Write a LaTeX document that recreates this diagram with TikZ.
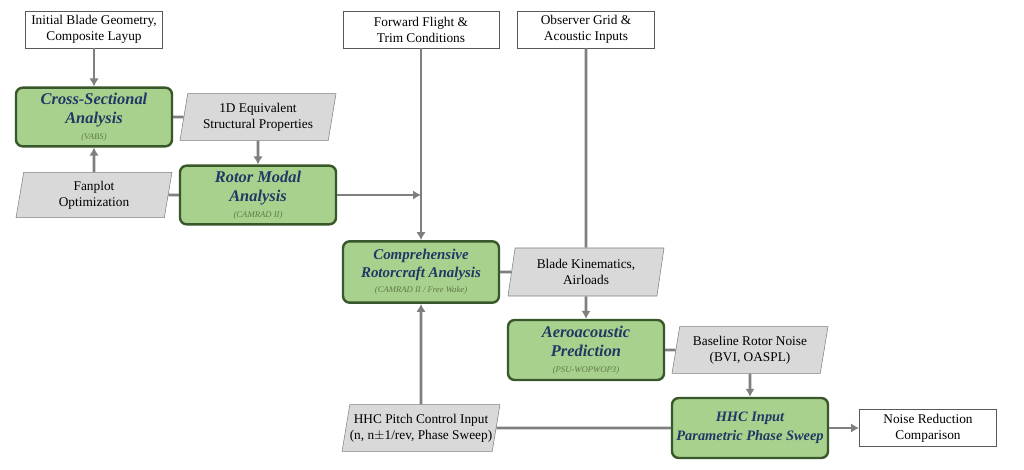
\documentclass[tikz,border=0pt]{standalone}
\usepackage{fontspec}
\setmainfont{Liberation Serif}
\usetikzlibrary{shapes.geometric,arrows.meta}

\definecolor{boxgreen}{HTML}{A9D18E}
\definecolor{edgegreen}{HTML}{38572A}
\definecolor{titleblue}{HTML}{1F3864}
\definecolor{subgreen}{HTML}{5E7B45}
\definecolor{datagray}{HTML}{D9D9D9}
\definecolor{linegray}{HTML}{7F7F7F}

% small tool name under a process title
\newcommand{\toolname}[1]{\\[-2pt]{\fontsize{6.5}{7.5}\selectfont\mdseries\itshape\color{subgreen}#1}}

\begin{document}
\begin{tikzpicture}[x=0.75pt, y=-0.75pt,
    font=\fontsize{10}{12}\selectfont,
    process/.style={draw=edgegreen, line width=1.8pt, fill=boxgreen, rounded corners=5pt,
      minimum width=117pt, minimum height=44pt, inner sep=1pt, align=center,
      text=titleblue, font=\fontsize{12.3}{14.3}\selectfont\bfseries\itshape},
    data/.style={trapezium, trapezium left angle=77, trapezium right angle=103,
      trapezium stretches body, draw=linegray, fill=datagray,
      minimum width=117pt, minimum height=35pt, inner sep=2pt, align=center},
    input/.style={draw=linegray!70!black, fill=white, minimum width=103pt,
      minimum height=28pt, inner sep=2pt, align=center},
    flow/.style={draw=linegray, line width=2pt, -{Latex[length=6pt,width=7pt]}},
    link/.style={draw=linegray, line width=2pt}]
    \useasboundingbox (0,0) rectangle (1024,470);

    % structural branch
    \node [input] (init) at (94,29.5) {Initial Blade Geometry,\\Composite Layup};
    \node [process] (csa) at (94,117) {Cross-Sectional\\Analysis\toolname{(VABS)}};
    \node [data] (eq1d) at (258,117) {1D Equivalent\\Structural Properties};
    \node [data, minimum height=34pt] (fan) at (94,195) {Fanplot\\Optimization};
    \node [process] (modal) at (258,195) {Rotor Modal\\Analysis\toolname{(CAMRAD II)}};

    % aeromechanics and acoustics
    \node [input, minimum width=117pt] (ff) at (421,29.5) {Forward Flight \&\\Trim Conditions};
    \node [input] (obs) at (586,29.5) {Observer Grid \&\\Acoustic Inputs};
    \node [process, minimum height=46pt, font=\fontsize{11.2}{13.5}\selectfont\bfseries\itshape] (comp) at (421,272) {Comprehensive\\Rotorcraft Analysis\toolname{(CAMRAD II / Free Wake)}};
    \node [data, minimum height=36pt] (kin) at (586,272) {Blade Kinematics,\\Airloads};
    \node [process, minimum height=45pt] (aero) at (586,350) {Aeroacoustic\\Prediction\toolname{(PSU-WOPWOP3)}};
    \node [data] (base) at (750,350) {Baseline Rotor Noise\\(BVI, OASPL)};

    % HHC sweep
    \node [data, inner xsep=0pt] (pitch) at (421,428) {HHC Pitch Control Input\\(n, n$\pm$1/rev, Phase Sweep)};
    \node [process, minimum height=45pt, font=\fontsize{10.8}{14}\selectfont\bfseries\itshape] (hhc) at (750,428) {HHC Input\\Parametric Phase Sweep};
    \node [input] (noise) at (928,428) {Noise Reduction\\Comparison};

    \draw [flow] (init) -- (csa);
    \draw [link] (csa) -- (eq1d);
    \draw [flow] (eq1d) -- (modal);
    \draw [flow] (fan) -- (csa);
    \draw [link] (fan) -- (modal);
    \draw [flow] (modal.east) -- (modal.east -| ff.south);
    \draw [flow] (ff) -- (comp);
    \draw [link] (obs) -- (kin);
    \draw [link] (comp) -- (kin);
    \draw [flow] (kin) -- (aero);
    \draw [link] (aero) -- (base);
    \draw [flow] (base) -- (hhc);
    \draw [flow] (pitch) -- (comp);
    \draw [link] (pitch) -- (hhc);
    \draw [flow] (hhc) -- (noise);
  \end{tikzpicture}
\end{document}
